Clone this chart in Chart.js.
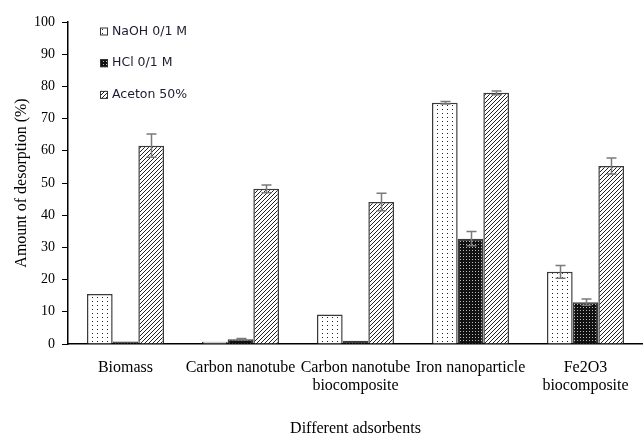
<!DOCTYPE html>
<html>
<head>
<meta charset="utf-8">
<script src="https://cdn.jsdelivr.net/npm/chart.js@4/dist/chart.umd.min.js"></script>
<style>
  html, body { margin: 0; padding: 0; background: #ffffff; }
  #c { display: block; }
</style>
</head>
<body>
<canvas id="c" width="643" height="437"></canvas>
<script>
// Desorption of the adsorbed dye by three eluents, per adsorbent
const categories = [
  "Biomass",
  "Carbon nanotube",
  ["Carbon nanotube", "biocomposite"],
  "Iron nanoparticle",
  ["Fe2O3", "biocomposite"]
];
const seriesNames = ["NaOH 0/1 M", "HCl 0/1 M", "Aceton 50%"];
const naohValues  = [15.5, 0.7, 9.2, 74.9, 22.4];
const naohErrors  = [0, 0, 0, 0.4, 2.0];
const hclValues   = [0.8, 1.5, 1.0, 32.7, 13.0];
const hclErrors   = [0, 0.2, 0, 2.2, 1.0];
const acetonValues = [61.6, 48.2, 44.1, 78.0, 55.3];
const acetonErrors = [3.6, 1.2, 2.7, 0.6, 2.5];
const yTicks = [0, 10, 20, 30, 40, 50, 60, 70, 80, 90, 100];

// Fill patterns
function makeTile(w, h, draw) {
  const t = document.createElement("canvas");
  t.width = w; t.height = h;
  const g = t.getContext("2d");
  draw(g, w, h);
  return document.getElementById("c").getContext("2d").createPattern(t, "repeat");
}
const dotted = makeTile(5, 4, (g, w, h) => {
  g.fillStyle = "#ffffff"; g.fillRect(0, 0, w, h);
  g.fillStyle = "#222222"; g.fillRect(2, 1, 1, 1);
});
const darkGrid = makeTile(3, 3, (g, w, h) => {
  g.fillStyle = "#111111"; g.fillRect(0, 0, w, h);
  g.fillStyle = "#bbbbbb"; g.fillRect(1, 1, 1, 1);
});
const hatched = makeTile(4, 4, (g, w, h) => {
  g.fillStyle = "#ffffff"; g.fillRect(0, 0, w, h);
  g.strokeStyle = "#222222"; g.lineWidth = 1;
  g.beginPath();
  g.moveTo(-1, 5); g.lineTo(5, -1);
  g.moveTo(-1, 1); g.lineTo(1, -1);
  g.moveTo(3, 5); g.lineTo(5, 3);
  g.stroke();
});

const errorSets = [naohErrors, hclErrors, acetonErrors];

// Symmetric error bars drawn on top of each bar
const errorBars = {
  id: "errorBars",
  afterDatasetsDraw(chart) {
    const ctx = chart.ctx;
    const y = chart.scales.y;
    ctx.save();
    ctx.strokeStyle = "#7a7a7a";
    ctx.lineWidth = 1.5;
    chart.data.datasets.forEach((ds, i) => {
      const meta = chart.getDatasetMeta(i);
      meta.data.forEach((bar, j) => {
        const e = errorSets[i][j];
        if (!e) return;
        const v = ds.data[j];
        const top = y.getPixelForValue(v + e);
        const bot = y.getPixelForValue(Math.max(0, v - e));
        const x = Math.round(bar.x) + 0.5;
        ctx.beginPath();
        ctx.moveTo(x, top); ctx.lineTo(x, bot);
        ctx.moveTo(x - 5, top); ctx.lineTo(x + 5, top);
        ctx.moveTo(x - 5, bot); ctx.lineTo(x + 5, bot);
        ctx.stroke();
      });
    });
    ctx.restore();
  }
};

// Legend inside the plot, top left
const insideLegend = {
  id: "insideLegend",
  afterDraw(chart) {
    const ctx = chart.ctx;
    const x0 = chart.chartArea.left + 32;
    const yStart = 31.5, step = 31.7;
    ctx.save();
    ctx.font = "12.5px 'DejaVu Sans'";
    ctx.textBaseline = "middle";
    chart.data.datasets.forEach((ds, i) => {
      const cy = yStart + i * step;
      ctx.fillStyle = ds.backgroundColor;
      ctx.fillRect(x0, cy - 4, 8, 8);
      ctx.strokeStyle = "#333333";
      ctx.lineWidth = 1;
      ctx.strokeRect(x0 + 0.5, cy - 3.5, 7, 7);
      ctx.fillStyle = "#1c1c30";
      ctx.fillText(ds.label, x0 + 12, cy);
    });
    ctx.restore();
  }
};

const serif = "'Liberation Serif', 'Times New Roman', serif";

new Chart(document.getElementById("c"), {
  type: "bar",
  data: {
    labels: categories,
    datasets: [
      { label: seriesNames[0], data: naohValues, backgroundColor: dotted },
      { label: seriesNames[1], data: hclValues, backgroundColor: darkGrid },
      { label: seriesNames[2], data: acetonValues, backgroundColor: hatched }
    ].map(d => Object.assign(d, { borderColor: "#3a3a3a", borderWidth: 1.5, borderSkipped: "bottom" }))
  },
  options: {
    responsive: false,
    animation: false,
    layout: { padding: { top: 22, right: 0, left: 0, bottom: 0 } },
    datasets: { bar: { categoryPercentage: 0.67, barPercentage: 1.0 } },
    plugins: { legend: { display: false }, tooltip: { enabled: false } },
    scales: {
      x: {
        grid: { display: false },
        border: { display: true, color: "#000000", width: 1.5 },
        ticks: { color: "#000000", padding: 7, maxRotation: 0, autoSkip: false,
                 font: { family: serif, size: 16, lineHeight: 1.12 } },
        title: { display: true, text: "Different adsorbents", color: "#000000",
                 font: { family: serif, size: 16, lineHeight: 1 }, padding: { top: 0, bottom: 0 } },
        afterFit(scale) { scale.height = 93; }
      },
      y: {
        min: 0, max: 100,
        afterBuildTicks(scale) { scale.ticks = yTicks.map(v => ({ value: v })); },
        grid: { display: true, drawOnChartArea: false, drawTicks: true, tickLength: 6, color: "#000000" },
        border: { display: true, color: "#000000", width: 1.5 },
        ticks: { color: "#000000", padding: 7, font: { family: serif, size: 14 } },
        title: { display: true, text: "Amount of desorption (%)", color: "#000000",
                 font: { family: serif, size: 16, lineHeight: 1 }, padding: { top: 14, bottom: 0 } },
        afterFit(scale) { scale.width = 68; }
      }
    }
  },
  plugins: [errorBars, insideLegend]
});
</script>
</body>
</html>
